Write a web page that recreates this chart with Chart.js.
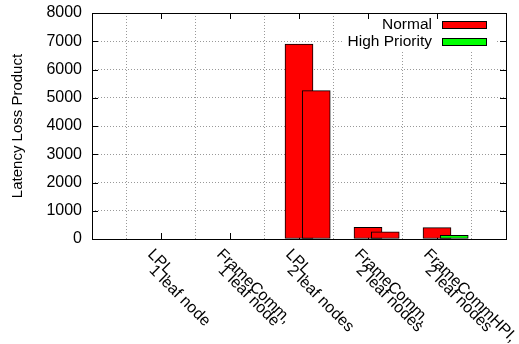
<!DOCTYPE html>
<html><head><meta charset="utf-8">
<script src="https://cdn.jsdelivr.net/npm/chart.js@4/dist/chart.umd.min.js"></script>
<style>html,body{margin:0;padding:0;background:#fff}canvas{display:block}</style>
</head><body>
<canvas id="c" width="519" height="344"></canvas>
<script>
// ---- data ----
const categories = [
  ["LPL,", "1 leaf node"],
  ["FrameComm,", "1 leaf node"],
  ["LPL,", "2 leaf nodes"],
  ["FrameComm,", "2 leaf nodes"],
  ["FrameCommHPI,", "2 leaf nodes"]
];
const firstBar = [0, 0, 6900, 410, 400];
const secondBar = [0, 0, 5250, 250, 130];
const secondIsHighPriority = [false, false, false, false, true];
const yTicks = [0, 1000, 2000, 3000, 4000, 5000, 6000, 7000, 8000];
const legendLabels = ["Normal", "High Priority"];
const yTitle = "Latency Loss Product";

// ---- styles ----
const RED = "#ff0000", GREEN = "#00ff00";
const FONT = '"Liberation Sans", Arial, Helvetica, sans-serif';
const FS_TICK = 16, FS_XLAB = 16, FS_LEG = 15.5, FS_TITLE = 15;
Chart.defaults.font.family = FONT;
Chart.defaults.font.size = FS_TICK;
Chart.defaults.color = "#000";

const TICK = 6;

const frame = {
  id: "frame",
  beforeDatasetsDraw(chart) {
    const {ctx, chartArea: a, scales} = chart;
    ctx.save();
    ctx.strokeStyle = "#000"; ctx.lineWidth = 1;
    ctx.beginPath();
    scales.y.ticks.forEach(t => {
      const y = Math.round(scales.y.getPixelForValue(t.value)) + 0.5;
      ctx.moveTo(a.left, y); ctx.lineTo(a.left + TICK, y);
    });
    scales.x.ticks.forEach(t => {
      const x = Math.round(scales.x.getPixelForValue(t.value)) + 0.5;
      ctx.moveTo(x, a.bottom); ctx.lineTo(x, a.bottom - TICK);
    });
    ctx.stroke();
    ctx.restore();
  },
  afterDatasetsDraw(chart) {
    const {ctx, chartArea: a, scales} = chart;
    ctx.save();
    // legend (opaque)
    ctx.fillStyle = "#fff";
    ctx.fillRect(343, a.top + 1, 152, 37);
    const colors = [RED, GREEN];
    ctx.font = FS_LEG + "px " + FONT;
    ctx.textAlign = "right"; ctx.textBaseline = "middle";
    legendLabels.forEach((lab, i) => {
      const cy = a.top + 12 + i * 16.5;
      ctx.fillStyle = "#000";
      ctx.fillText(lab, 432, cy);
      ctx.fillStyle = colors[i];
      ctx.fillRect(442, Math.round(cy - 4), 45, 8);
      ctx.strokeStyle = "#000"; ctx.lineWidth = 1;
      ctx.strokeRect(442.5, Math.round(cy - 4) + 0.5, 44, 7);
    });
    // mirrored ticks
    ctx.strokeStyle = "#000"; ctx.lineWidth = 1;
    ctx.beginPath();
    scales.y.ticks.forEach(t => {
      const y = Math.round(scales.y.getPixelForValue(t.value)) + 0.5;
      ctx.moveTo(a.right, y); ctx.lineTo(a.right - TICK, y);
    });
    scales.x.ticks.forEach(t => {
      const x = Math.round(scales.x.getPixelForValue(t.value)) + 0.5;
      ctx.moveTo(x, a.top); ctx.lineTo(x, a.top + TICK);
    });
    ctx.stroke();
    // border
    ctx.strokeRect(Math.round(a.left) + 0.5, Math.round(a.top) + 0.5,
                   Math.round(a.right - a.left), Math.round(a.bottom - a.top));
    // x labels (rotated)
    ctx.fillStyle = "#000";
    ctx.font = FS_XLAB + "px " + FONT;
    ctx.textAlign = "left"; ctx.textBaseline = "alphabetic";
    scales.x.ticks.forEach((t, i) => {
      const x = scales.x.getPixelForValue(t.value);
      categories[i].forEach((line, j) => {
        ctx.save();
        ctx.translate(x - 14 + j * 1.5, a.bottom + 16 + j * 16);
        ctx.rotate(Math.PI / 4);
        ctx.fillText(line, 0, 0);
        ctx.restore();
      });
    });
    ctx.restore();
  }
};

const barStyle = {
  borderColor: "#000", borderWidth: 1, borderSkipped: false,
  barThickness: 28, grouped: false
};

new Chart(document.getElementById("c"), {
  type: "bar",
  data: {
    datasets: [
      Object.assign({
        label: legendLabels[0],
        data: categories.map((c, i) => ({x: i + 1, y: firstBar[i]})),
        xAxisID: "x", backgroundColor: RED, order: 1
      }, barStyle),
      Object.assign({
        label: legendLabels[1],
        data: categories.map((c, i) => ({x: i + 1, y: secondBar[i]})),
        xAxisID: "x2",
        backgroundColor: secondIsHighPriority.map(h => h ? GREEN : RED),
        order: 0
      }, barStyle)
    ]
  },
  options: {
    responsive: false, animation: false, devicePixelRatio: 1,
    layout: {padding: {left: 0, right: 13, top: 13, bottom: 0}},
    plugins: {legend: {display: false}, tooltip: {enabled: false}},
    scales: {
      x: {
        type: "linear", min: 0, max: categories.length + 1, offset: false,
        afterBuildTicks: s => { s.ticks = categories.map((c, i) => ({value: i + 1})); },
        ticks: {display: false},
        grid: {color: "#999", lineWidth: 1, drawTicks: false, tickLength: 0},
        border: {display: false, dash: [1, 2]},
        afterFit: s => { s.height = 105; s.paddingLeft = 0; s.paddingRight = 0; }
      },
      x2: {
        type: "linear", position: "top", display: true,
        min: -0.25, max: categories.length + 0.75, offset: false,
        ticks: {display: false},
        grid: {display: false, drawTicks: false},
        border: {display: false},
        afterFit: s => { s.height = 0; s.paddingLeft = 0; s.paddingRight = 0; }
      },
      y: {
        min: 0, max: 8000,
        afterBuildTicks: s => { s.ticks = yTicks.map(v => ({value: v})); },
        ticks: {padding: 10, color: "#000", font: {size: FS_TICK}, callback: v => String(v)},
        grid: {color: "#999", lineWidth: 1, drawTicks: false, tickLength: 0},
        border: {display: false, dash: [1, 2]},
        title: {display: true, text: yTitle, font: {size: FS_TITLE}, padding: {top: 9, bottom: 0}},
        afterFit: s => { s.width = 92; s.paddingTop = 0; s.paddingBottom = 0; }
      }
    }
  },
  plugins: [frame]
});
</script>
</body></html>
